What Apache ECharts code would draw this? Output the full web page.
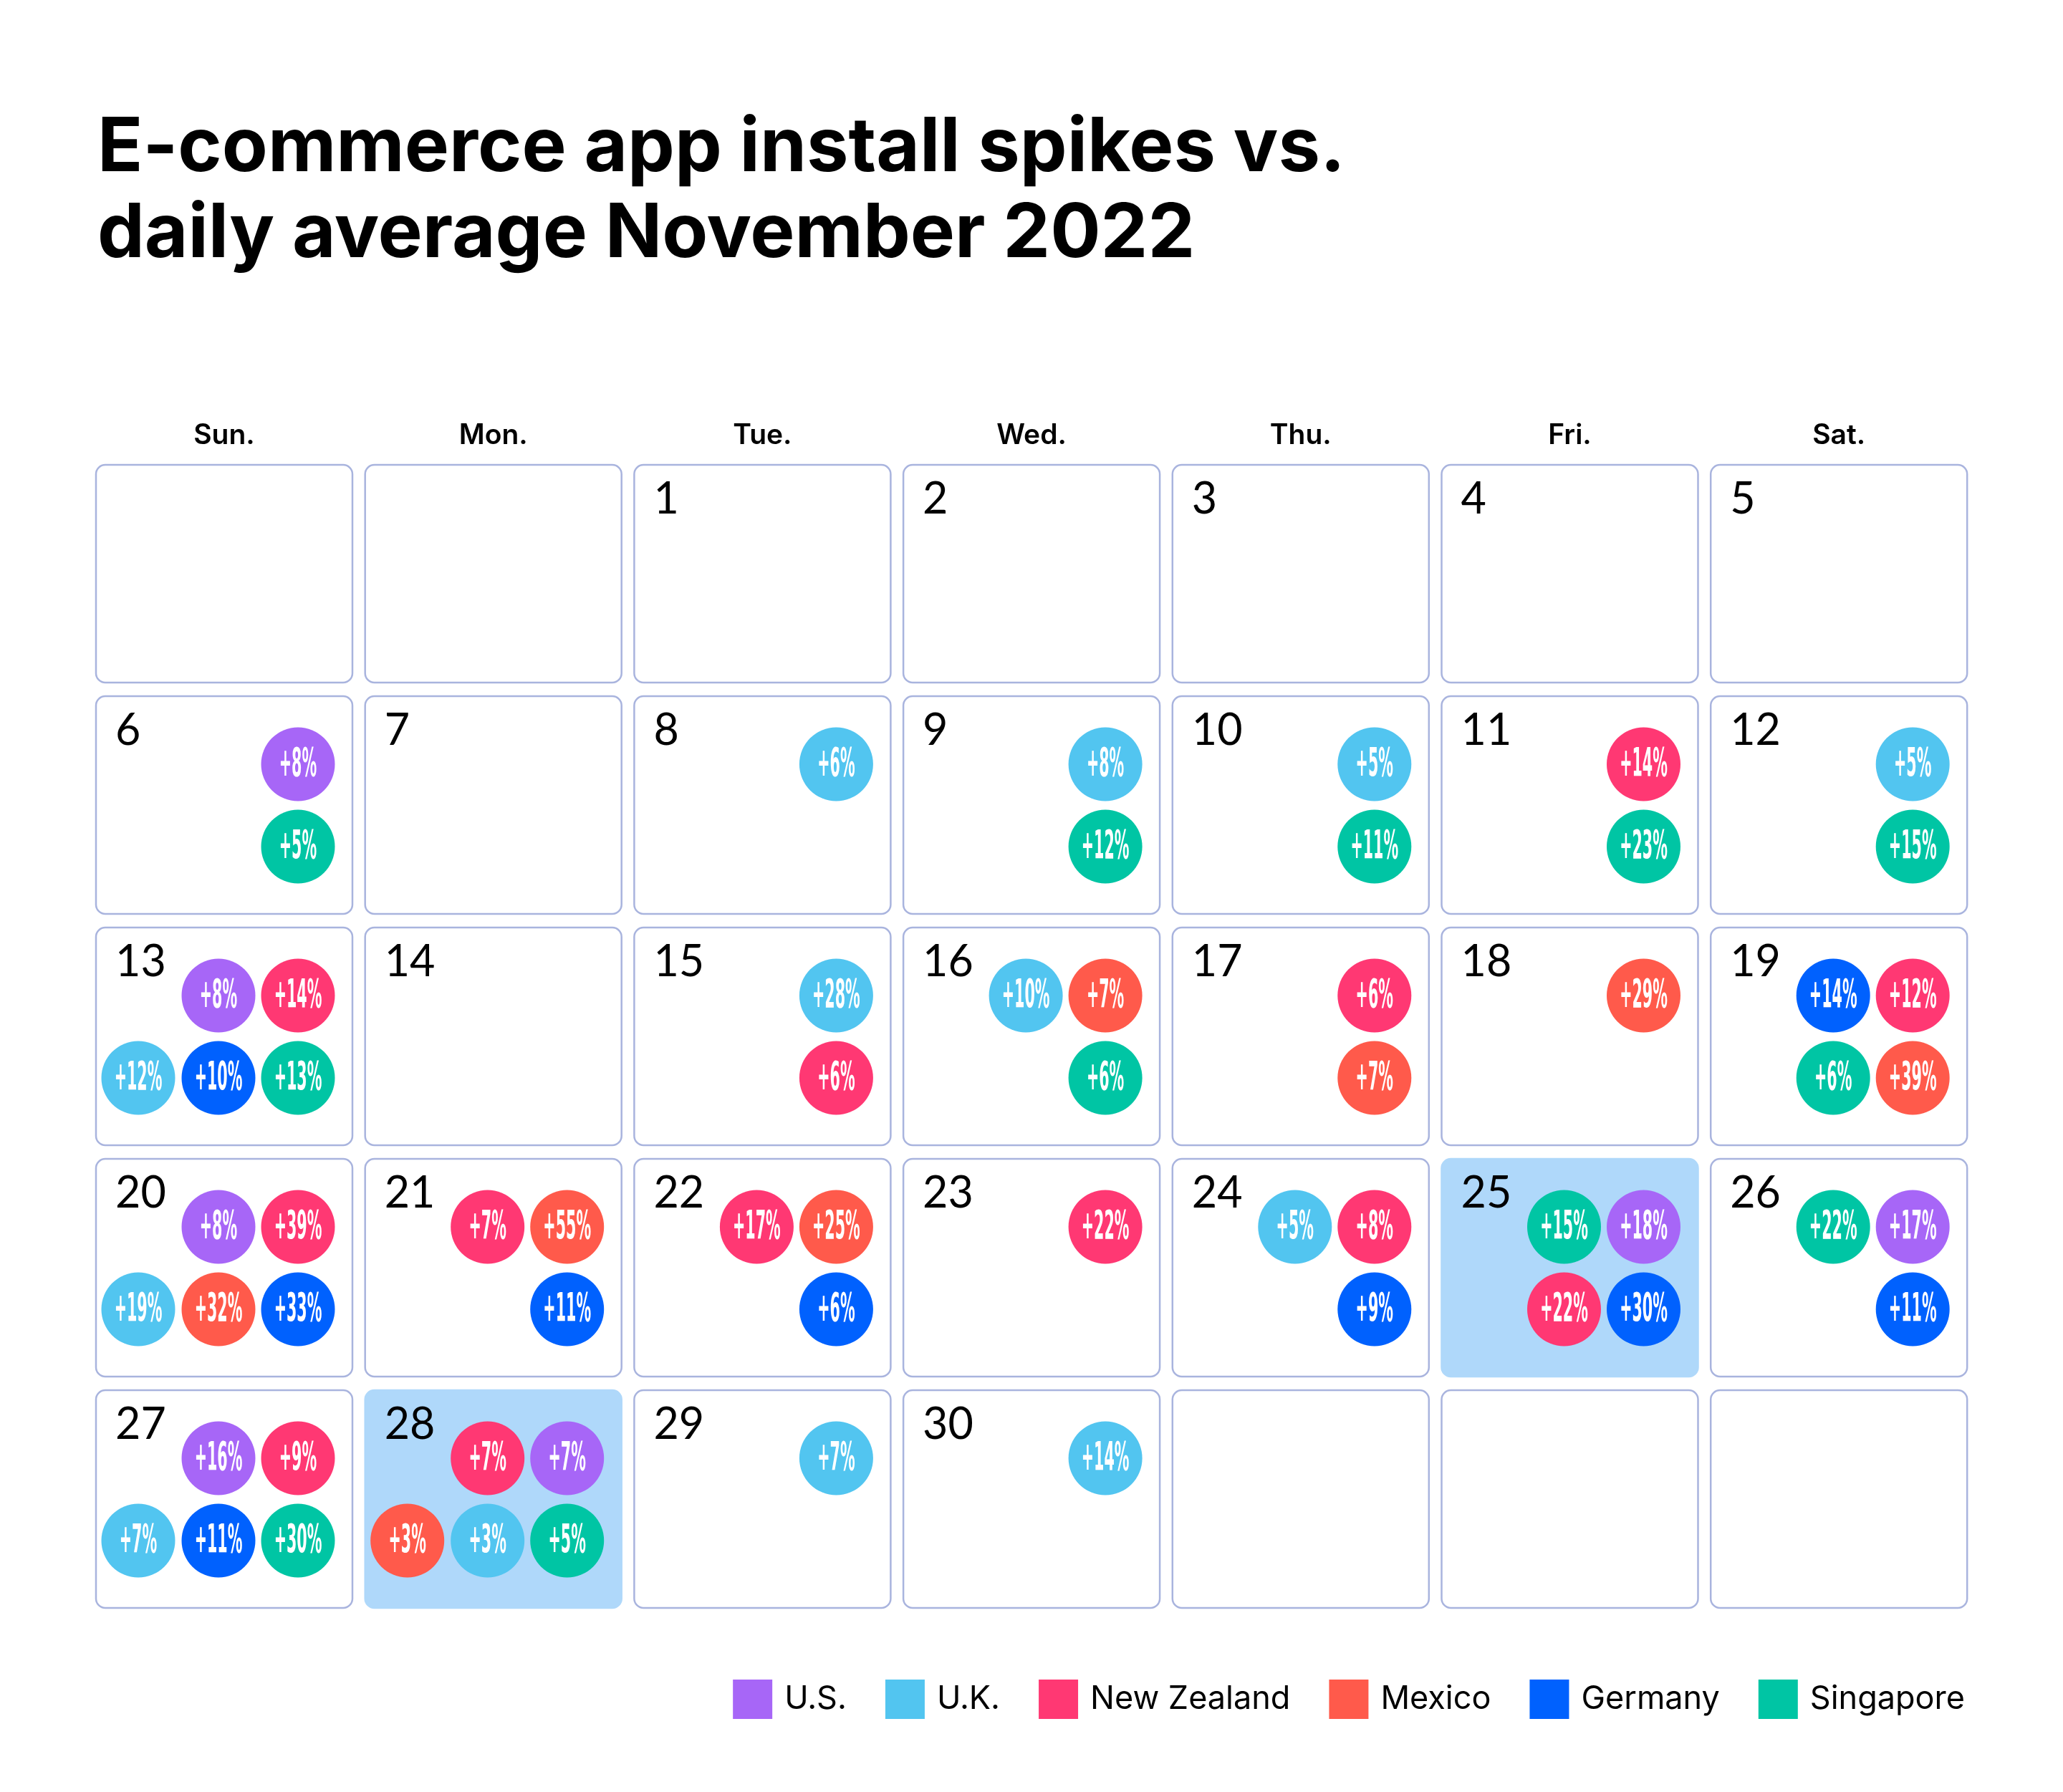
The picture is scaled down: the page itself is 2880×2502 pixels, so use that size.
<!DOCTYPE html>
<html>
<head>
<meta charset="utf-8">
<script src="https://cdn.jsdelivr.net/npm/echarts@6/dist/echarts.min.js"></script>
<style>
html, body { margin: 0; padding: 0; background: #fff; }
#main { width: 2880px; height: 2502px; }
</style>
</head>
<body>
<div id="main"></div>
<script>
// ---- data ----
var weekdays = ['Sun.', 'Mon.', 'Tue.', 'Wed.', 'Thu.', 'Fri.', 'Sat.'];
var weeks = ['W1', 'W2', 'W3', 'W4', 'W5'];
var countries = ['U.S.', 'U.K.', 'New Zealand', 'Mexico', 'Germany', 'Singapore'];
var countryColors = ['#A766F7', '#52C5F0', '#FF3873', '#FF5A4B', '#0061FE', '#00C5A4'];
var spikeDays = [6, 8, 9, 10, 11, 12, 13, 15, 16, 17, 18, 19, 20, 21, 22, 23, 24, 25, 26, 27, 28, 29, 30];
var spikeCountries = [
    ['U.S.', 'Singapore'],                                    // 6
    ['U.K.'],                                                 // 8
    ['U.K.', 'Singapore'],                                    // 9
    ['U.K.', 'Singapore'],                                    // 10
    ['New Zealand', 'Singapore'],                             // 11
    ['U.K.', 'Singapore'],                                    // 12
    ['U.S.', 'New Zealand', 'U.K.', 'Germany', 'Singapore'],  // 13
    ['U.K.', 'New Zealand'],                                  // 15
    ['U.K.', 'Mexico', 'Singapore'],                          // 16
    ['New Zealand', 'Mexico'],                                // 17
    ['Mexico'],                                               // 18
    ['Germany', 'New Zealand', 'Singapore', 'Mexico'],        // 19
    ['U.S.', 'New Zealand', 'U.K.', 'Mexico', 'Germany'],     // 20
    ['New Zealand', 'Mexico', 'Germany'],                     // 21
    ['New Zealand', 'Mexico', 'Germany'],                     // 22
    ['New Zealand'],                                          // 23
    ['U.K.', 'New Zealand', 'Germany'],                       // 24
    ['Singapore', 'U.S.', 'New Zealand', 'Germany'],          // 25
    ['Singapore', 'U.S.', 'Germany'],                         // 26
    ['U.S.', 'New Zealand', 'U.K.', 'Germany', 'Singapore'],  // 27
    ['New Zealand', 'U.S.', 'Mexico', 'U.K.', 'Singapore'],   // 28
    ['U.K.'],                                                 // 29
    ['U.K.']                                                  // 30
];
var spikeValues = [
    [8, 5], [6], [8, 12], [5, 11], [14, 23], [5, 15], [8, 14, 12, 10, 13],
    [28, 6], [10, 7, 6], [6, 7], [29], [14, 12, 6, 39], [8, 39, 19, 32, 33],
    [7, 55, 11], [17, 25, 6], [22], [5, 8, 9], [15, 18, 22, 30], [22, 17, 11],
    [16, 9, 7, 11, 30], [7, 7, 3, 3, 5], [7], [14]
];
var highlightDays = [25, 28];
var year = 2022, month = 10; // November (0-based)
var daysInMonth = 30;

// ---- layout ----
var CELL_W = 358, CELL_H = 304, COL_STEP = 375.7, ROW_STEP = 323;
var GRID_LEFT = 134 - (COL_STEP - CELL_W) / 2;
var GRID_TOP = 649 - (ROW_STEP - CELL_H) / 2;
// bubble slot centres measured from the cell's top-left corner
var SLOT_X = [59, 171, 282], SLOT_Y = [95, 210];
var SLOT_LAYOUT = {
    1: [[2, 0]],
    2: [[2, 0], [2, 1]],
    3: [[1, 0], [2, 0], [2, 1]],
    4: [[1, 0], [2, 0], [1, 1], [2, 1]],
    5: [[1, 0], [2, 0], [0, 1], [1, 1], [2, 1]]
};
var RADIUS = 51.5;
var NUM_FONT = '400 61px Lato, "Noto Sans", sans-serif';
var PCT_FONT = 'bold 56px "Liberation Sans Narrow", "DejaVu Sans Condensed", "Liberation Sans", sans-serif';

var firstWeekday = new Date(year, month, 1).getDay();
function dayPos(d) {
    var idx = d - 1 + firstWeekday;
    return [idx % 7, Math.floor(idx / 7)];
}

// all 35 calendar boxes
var cellData = [];
for (var i = 0; i < 35; i++) {
    var d = i - firstWeekday + 1;
    var inMonth = d >= 1 && d <= daysInMonth;
    cellData.push([i % 7, Math.floor(i / 7), inMonth ? d : 0, inMonth && highlightDays.indexOf(d) >= 0 ? 1 : 0]);
}

// one series per country
var spikeSeries = countries.map(function (name, ci) {
    var data = [];
    for (var k = 0; k < spikeDays.length; k++) {
        var list = spikeCountries[k];
        var slots = SLOT_LAYOUT[list.length];
        var pos = dayPos(spikeDays[k]);
        for (var j = 0; j < list.length; j++) {
            if (list[j] === name) {
                data.push([pos[0], pos[1], slots[j][0], slots[j][1], spikeValues[k][j]]);
            }
        }
    }
    return {
        name: name,
        type: 'custom',
        coordinateSystem: 'cartesian2d',
        encode: { x: 0, y: 1 },
        z: 3,
        itemStyle: { color: countryColors[ci] },
        renderItem: renderSpike,
        data: data
    };
});

function renderCell(params, api) {
    var c = api.coord([api.value(0), api.value(1)]);
    var day = api.value(2);
    var hl = api.value(3);
    var x = c[0] - CELL_W / 2, y = c[1] - CELL_H / 2;
    var children = [{
        type: 'rect',
        shape: { x: x, y: y, width: CELL_W, height: CELL_H, r: 13 },
        style: { fill: hl ? '#AFD8FA' : '#fff', stroke: hl ? '#AFD8FA' : '#A9B4DE', lineWidth: 2.5 }
    }];
    if (day) {
        children.push({
            type: 'text',
            style: { text: String(day), x: x + 27, y: y + 48, verticalAlign: 'middle', font: NUM_FONT, fill: '#000' }
        });
    }
    return { type: 'group', children: children };
}

function renderSpike(params, api) {
    var c = api.coord([api.value(0), api.value(1)]);
    var cx = c[0] - CELL_W / 2 + SLOT_X[api.value(2)];
    var cy = c[1] - CELL_H / 2 + SLOT_Y[api.value(3)];
    return {
        type: 'group',
        children: [{
            type: 'circle',
            shape: { cx: cx, cy: cy, r: RADIUS },
            style: { fill: api.visual('color') }
        }, {
            type: 'text',
            x: cx, y: cy + 1,
            scaleX: 0.41,
            style: { text: '+' + api.value(4) + '%', x: 0, y: 0, align: 'center', verticalAlign: 'middle', font: PCT_FONT, fill: '#fff' }
        }]
    };
}

var chart = echarts.init(document.getElementById('main'));
chart.setOption({
    animation: false,
    backgroundColor: '#fff',
    title: {
        text: 'E-commerce app install spikes vs.\ndaily average November 2022',
        left: 131,
        top: 143,
        textStyle: { fontFamily: 'Inter', fontWeight: 'bold', fontSize: 104.5, lineHeight: 120, color: '#000' }
    },
    legend: {
        data: countries,
        selectedMode: false,
        icon: 'rect',
        itemWidth: 55,
        itemHeight: 55,
        itemGap: 54,
        right: 132,
        top: 2340,
        textStyle: { fontFamily: 'Inter', fontSize: 45, color: '#000', padding: [0, 0, 0, 12] }
    },
    grid: { left: GRID_LEFT, top: GRID_TOP, width: 7 * COL_STEP, height: 5 * ROW_STEP },
    xAxis: {
        type: 'category',
        data: weekdays,
        position: 'top',
        axisLine: { show: false },
        axisTick: { show: false },
        splitLine: { show: false },
        axisLabel: { fontFamily: 'Inter', fontWeight: 600, fontSize: 39, color: '#000', margin: 12 }
    },
    yAxis: {
        type: 'category',
        data: weeks,
        inverse: true,
        show: false
    },
    series: [{
        name: 'cells',
        type: 'custom',
        coordinateSystem: 'cartesian2d',
        encode: { x: 0, y: 1 },
        z: 1,
        silent: true,
        renderItem: renderCell,
        data: cellData
    }].concat(spikeSeries)
});
</script>
</body>
</html>
